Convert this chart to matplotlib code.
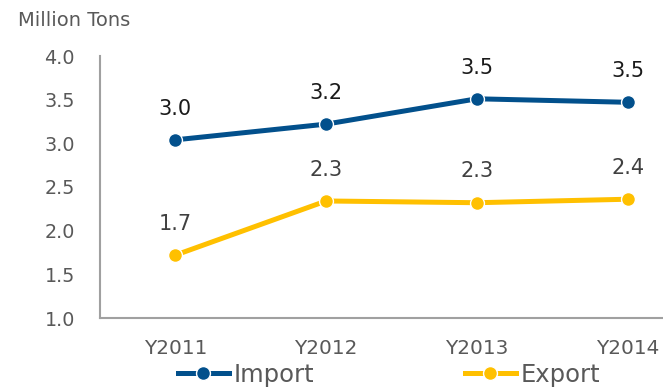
import matplotlib.pyplot as plt
from matplotlib.lines import Line2D

years = ["Y2011", "Y2012", "Y2013", "Y2014"]
imports = [3.04, 3.22, 3.51, 3.47]
exports = [1.72, 2.34, 2.32, 2.36]

blue = "#02508C"
gold = "#FFC000"
grey_text = "#595959"

plt.rcParams['font.family'] = ['DejaVu Sans']

fig = plt.figure(figsize=(6.63, 3.87), dpi=100)
ax = fig.add_axes([100 / 663, 69 / 387, 603 / 663, 262 / 387])

x = range(len(years))
ax.plot(x, imports, color=blue, lw=3.6, marker="o", ms=10,
        mec="white", mew=1.0, solid_capstyle="butt", zorder=3)
ax.plot(x, exports, color=gold, lw=3.6, marker="o", ms=10,
        mec="white", mew=1.0, solid_capstyle="butt", zorder=3)

# value labels above each point
for i, v in enumerate(imports):
    ax.annotate(f"{v:.1f}", (i, v), xytext=(0, 22.5), textcoords="offset points",
                ha="center", va="center", fontsize=15, color="#1a1a1a")
for i, v in enumerate(exports):
    ax.annotate(f"{v:.1f}", (i, v), xytext=(0, 22.5), textcoords="offset points",
                ha="center", va="center", fontsize=15, color="#404040")

ax.set_xlim(-0.5, 3.5)
ax.set_ylim(1.0, 4.0)
ax.set_yticks([1.0, 1.5, 2.0, 2.5, 3.0, 3.5, 4.0])
ax.set_yticklabels([f"{t:.1f}" for t in ax.get_yticks()])
ax.set_xticks(list(x))
ax.set_xticklabels(years)
ax.tick_params(axis="both", length=0, colors=grey_text)
ax.tick_params(axis="y", pad=18, labelsize=13.8)
ax.tick_params(axis="x", pad=15, labelsize=14.4)

for side in ["top", "right"]:
    ax.spines[side].set_visible(False)
for side in ["left", "bottom"]:
    ax.spines[side].set_color("#A0A0A0")
    ax.spines[side].set_linewidth(1.5)

fig.text(18 / 663, 1 - 20 / 387, "Million Tons", fontsize=14,
         color=grey_text, va="center", ha="left")

handles = [
    Line2D([], [], color=blue, lw=3.6, marker="o", ms=10, mec="white", mew=1.0),
    Line2D([], [], color=gold, lw=3.6, marker="o", ms=10, mec="white", mew=1.0),
]
fig.legend(handles, ["Import", "Export"], loc="center", ncol=2,
           bbox_to_anchor=(389 / 663, 1 - 375 / 387), frameon=False,
           fontsize=17.5, labelcolor=grey_text, handlelength=2.1,
           handletextpad=0.2, columnspacing=6.2, borderpad=0, borderaxespad=0)

fig.savefig("out.png", dpi=100)
